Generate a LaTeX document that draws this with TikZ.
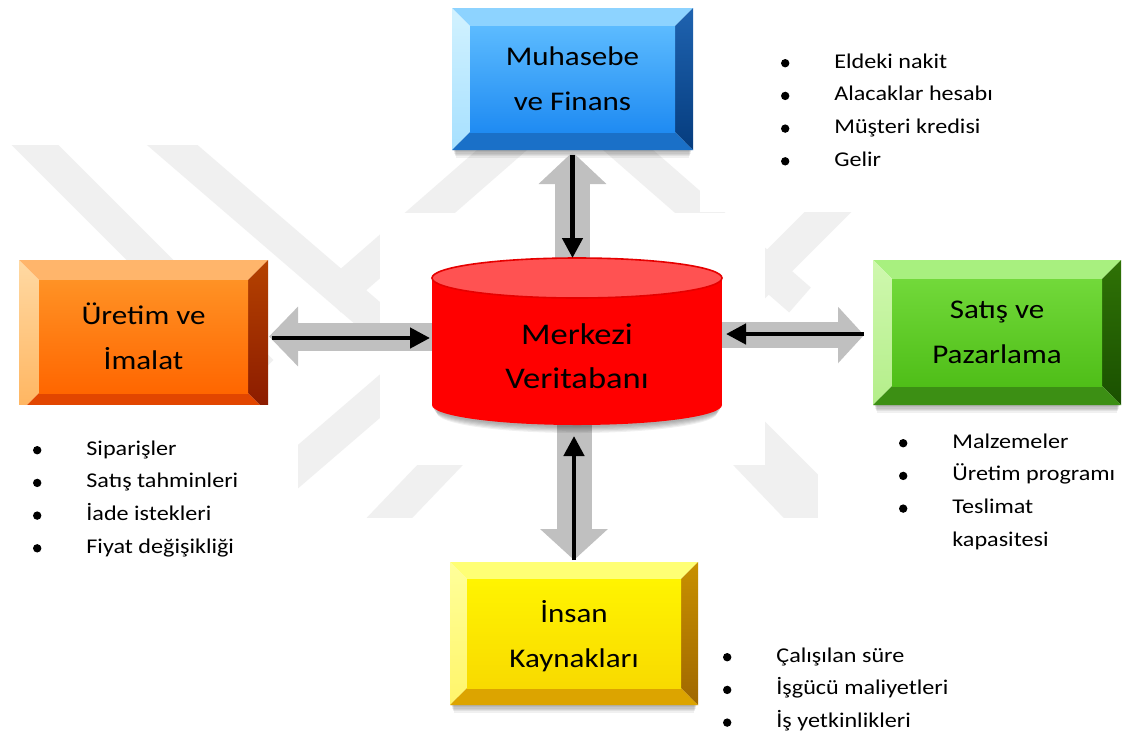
\documentclass[tikz,border=0pt]{standalone}
\usepackage{fontspec}
\setmainfont[FakeStretch=1.15]{Carlito}
\usetikzlibrary{arrows.meta,calc}

% bevel palettes: T top, L left (top/bottom), R right (top/bottom), B bottom, F face (top/bottom)
\definecolor{blueT}{HTML}{8DD3FF}\definecolor{blueL1}{HTML}{D2F2FF}\definecolor{blueL2}{HTML}{A6E0FF}
\definecolor{blueR1}{HTML}{1F63B0}\definecolor{blueR2}{HTML}{053C7E}\definecolor{blueB}{HTML}{1A70C8}
\definecolor{blueF1}{HTML}{5CBBFF}\definecolor{blueF2}{HTML}{1F8BF2}
\definecolor{oraT}{HTML}{FFB56B}\definecolor{oraL1}{HTML}{FFD9A3}\definecolor{oraL2}{HTML}{FFB45E}
\definecolor{oraR1}{HTML}{B54200}\definecolor{oraR2}{HTML}{8A1A00}\definecolor{oraB}{HTML}{E24600}
\definecolor{oraF1}{HTML}{FF9225}\definecolor{oraF2}{HTML}{FF6600}
\definecolor{greT}{HTML}{A8F07F}\definecolor{greL1}{HTML}{CFF8AE}\definecolor{greL2}{HTML}{B4EE8A}
\definecolor{greR1}{HTML}{2F7206}\definecolor{greR2}{HTML}{1A5000}\definecolor{greB}{HTML}{3C8F14}
\definecolor{greF1}{HTML}{72D93A}\definecolor{greF2}{HTML}{4FBE18}
\definecolor{yelT}{HTML}{FFFF75}\definecolor{yelL1}{HTML}{FFFF9A}\definecolor{yelL2}{HTML}{FFF56A}
\definecolor{yelR1}{HTML}{C89000}\definecolor{yelR2}{HTML}{A06800}\definecolor{yelB}{HTML}{DCA400}
\definecolor{yelF1}{HTML}{FFF400}\definecolor{yelF2}{HTML}{F8DA00}
\definecolor{dbBody}{HTML}{FF0000}\definecolor{dbTop}{HTML}{FF5252}\definecolor{dbEdge}{HTML}{E60000}
\definecolor{arrowgray}{HTML}{C0C0C0}\definecolor{wmgray}{HTML}{F0F0F0}

% bevelled box drawn inside node #1, palette #2, bevel width #3
\newcommand\bevelbox[3]{%
  \coordinate (bxA) at ($(#1.north west)+(#3,#3)$);
  \coordinate (bxB) at ($(#1.north east)+(-#3,#3)$);
  \coordinate (bxC) at ($(#1.south east)+(-#3,-#3)$);
  \coordinate (bxD) at ($(#1.south west)+(#3,-#3)$);
  \fill[#2T] (#1.north west) -- (#1.north east) -- (bxB) -- (bxA) -- cycle;
  \shade[top color=#2L1, bottom color=#2L2] (#1.north west) -- (bxA) -- (bxD) -- (#1.south west) -- cycle;
  \shade[top color=#2R1, bottom color=#2R2] (#1.north east) -- (#1.south east) -- (bxC) -- (bxB) -- cycle;
  \fill[#2B] (#1.south west) -- (bxD) -- (bxC) -- (#1.south east) -- cycle;
  \shade[top color=#2F1, bottom color=#2F2] (bxA) rectangle (bxC);
}
% soft shadow under node #1
\newcommand\boxshadow[1]{%
  \foreach \k in {0,...,5}
    \fill[black, opacity=0.06] ($(#1.south west)+(1+\k*0.6,-8)$) rectangle ($(#1.south east)+(-1-\k*0.6,{1+\k*1.3})$);
}
\newcommand\blt{\makebox[28.5pt][l]{\hspace{1.8pt}\tikz[baseline=-2.4pt]\fill (2.1pt,0pt) circle[radius=2.1pt];}}

\tikzset{
  boxnode/.style={inner sep=0pt, outer sep=0pt},
  title/.style={font=\fontsize{13.5pt}{22.5pt}\selectfont, align=center, inner sep=0pt},
  dbtitle/.style={font=\fontsize{15pt}{22pt}\selectfont, align=center, inner sep=0pt},
  item/.style={font=\fontsize{10.5pt}{16pt}\selectfont, anchor=base west, inner sep=0pt},
  wm/.style={draw=wmgray, line width=16.5pt, line join=miter},
  mask/.style={fill=white},
  link/.style={draw=black, line width=2.25pt, -{Triangle[length=10pt,width=10pt]}},
}

\begin{document}
\begin{tikzpicture}[x=0.5pt, y=-0.5pt]
\useasboundingbox (0,0) rectangle (1125,735);
\fill[white] (0,0) rectangle (1125,735);

% background emblem
\begin{scope}
  \clip (0,145) rectangle (1125,517);
  \draw[wm] (15,125) -- (250,360) -- (15,595);
  \draw[wm] (149,125) -- (422,360) -- (172,575);
  \draw[wm] (915,125) -- (680,360) -- (915,595);
  \draw[wm] (330,300) -- (565,95) -- (800,300);
  \draw[wm] (330,580) -- (598,300) -- (866,580);
\end{scope}
\fill[mask] (380,213) rectangle (765,465);
\fill[mask] (700,30) rectangle (1057,212);
\fill[mask] (818,413) rectangle (1125,572);
\fill[mask] (703,612) rectangle (1000,735);

% departments and the database
\node[boxnode, minimum width=120.5pt, minimum height=71pt] (fin) at (572.5,79) {};
\node[boxnode, minimum width=124.5pt, minimum height=76.5pt] (ure) at (143.5,336.5) {};
\node[boxnode, minimum width=124pt, minimum height=72.5pt] (sat) at (997,332.5) {};
\node[boxnode, minimum width=124pt, minimum height=71.5pt] (ins) at (574,633.5) {};
\node[boxnode, minimum width=145pt, minimum height=83.5pt] (db) at (577,341.5) {};

\boxshadow{fin}
\boxshadow{sat}
\boxshadow{ins}

% wide grey data channels
\draw[arrowgray, line width=17.5pt, -{Triangle[length=16pt,width=33pt]}]
  (fin.south |- db.center) -- ($(fin.south)+(0,2)$);
\draw[arrowgray, line width=17.5pt, -{Triangle[length=15.5pt,width=33pt]}]
  (ins.north |- db.center) -- ($(ins.north)+(0,-2)$);
\draw[arrowgray, line width=14pt, -{Triangle[length=14.5pt,width=29pt]}]
  (db.center |- ure.east) -- ($(ure.east)+(1,0)$);
\draw[arrowgray, line width=13pt, -{Triangle[length=13pt,width=27.5pt]}]
  ($(db.center |- sat.west)+(0,2.5)$) -- ($(sat.west)+(-9,2.5)$);

\bevelbox{fin}{blue}{18}
\bevelbox{ure}{ora}{20}
\bevelbox{sat}{gre}{19}
\bevelbox{ins}{yel}{17}
\fill[mask] (0,405) rectangle (298,600);

% database cylinder
\foreach \k in {0,...,5}
  \fill[black, opacity=0.06] (577,{407+\k*1.2}) ellipse[x radius={72pt-\k*0.4pt}, y radius=10pt];
\fill[dbBody] (577,405) ellipse[x radius=72.5pt, y radius=10pt];
\fill[dbBody] (432,278) rectangle (722,405);
\filldraw[fill=dbTop, draw=dbEdge, line width=0.8pt] (577,278) ellipse[x radius=72.5pt, y radius=10pt];

% data flows into the database
\draw[link] ($(fin.south)+(0,5)$) -- (fin.south |- db.north);
\draw[link] ($(ins.north)+(0,-2)$) -- ($(ins.north |- db.south)+(0,11)$);
\draw[link] ($(ure.east)+(4,1.5)$) -- ($(db.west |- ure.east)+(-2,1.5)$);
\draw[link] ($(sat.west)+(-9,1.5)$) -- ($(db.east |- sat.west)+(4,1.5)$);

% labels
\node[title] (finT) at (fin) {Muhasebe\\ve Finans};
\node[title] (ureT) at (ure) {Üretim ve\\İmalat};
\node[title] (satT) at (sat) {Satış ve\\Pazarlama};
\node[title] (insT) at ($(ins)+(0,3)$) {İnsan\\Kaynakları};
\node[dbtitle] (dbT) at (577,356) {Merkezi\\Veritabanı};

\foreach \t [count=\i from 0] in {Eldeki nakit, Alacaklar hesabı, Müşteri kredisi, Gelir}
  \node[item] (finI\i) at (777,{68+32.7*\i}) {\blt\t};
\foreach \t [count=\i from 0] in {Siparişler, Satış tahminleri, İade istekleri, Fiyat değişikliği}
  \node[item] (ureI\i) at (29,{455+32.7*\i}) {\blt\t};
\foreach \t [count=\i from 0] in {Malzemeler, Üretim programı, Teslimat}
  \node[item] (satI\i) at (895,{448+32.7*\i}) {\blt\t};
\node[item] (satI3) at (895,{448+32.7*3}) {\makebox[28.5pt]{}kapasitesi};
\foreach \t [count=\i from 0] in {Çalışılan süre, İşgücü maliyetleri, İş yetkinlikleri}
  \node[item] (insI\i) at (719,{662+32.7*\i}) {\blt\t};
\end{tikzpicture}
\end{document}
